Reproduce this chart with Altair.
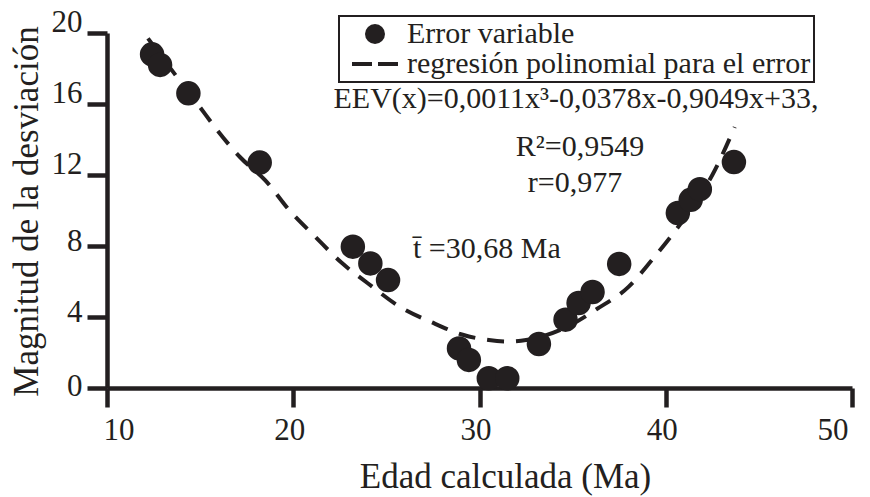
import altair as alt
import pandas as pd

# Data points
edad = [12.42, 12.85, 14.37, 18.2, 23.2, 24.14, 25.09, 28.9, 29.43, 30.5,
        31.49, 33.19, 34.62, 35.32, 36.07, 37.5, 40.65, 41.34, 41.83, 43.66]
desviacion = [18.8, 18.2, 16.6, 12.7, 7.96, 7.02, 6.08, 2.23, 1.58, 0.55,
              0.55, 2.48, 3.85, 4.79, 5.41, 6.99, 9.86, 10.6, 11.2, 12.73]

# Polynomial regression curve
curva_x = [12.2, 13.7, 14.9, 15.9, 17.15, 18.5, 19.8, 21.2, 22.6, 24.0, 25.75,
           27.4, 29.1, 30.5, 31.5, 32.5, 33.5, 34.8, 36.3, 38.0, 39.25, 40.4,
           41.5, 42.5, 43.7]
curva_y = [19.7, 17.6, 15.95, 14.55, 13.0, 11.7, 10.0, 8.5, 7.05, 5.9, 4.56,
           3.72, 3.0, 2.7, 2.62, 2.7, 2.95, 3.5, 4.45, 5.7, 7.2, 8.7,
           10.3, 12.0, 14.7]

series = ["Error variable", "regresión polinomial para el error"]
x_ticks = [10, 20, 30, 40, 50]
y_ticks = [0, 4, 8, 12, 16, 20]

INK = "#231f20"
FONT = "Liberation Serif"

pts = pd.DataFrame({"edad": edad, "desv": desviacion, "serie": series[0]})
cur = pd.DataFrame({"edad": curva_x, "desv": curva_y})

xscale = alt.Scale(domain=[10, 50], nice=False, zero=False)
yscale = alt.Scale(domain=[0, 20], nice=False)

xaxis = alt.Axis(values=x_ticks, title="Edad calculada (Ma)", grid=False,
                 labelOffset=-4, labelPadding=8, tickSize=19,
                 titleX=398, titleY=99, titleBaseline="alphabetic", titleAlign="center")
yaxis = alt.Axis(values=y_ticks, title="Magnitud de la desviación", grid=False,
                 tickSize=20, labelPadding=5,
                 labelOffset={"condition": [{"test": "datum.value >= 12", "value": -11},
                                            {"test": "datum.value >= 4", "value": -5}],
                              "value": -2},
                 titleX=-70, titleY=178, titleAngle=270, titleBaseline="alphabetic",
                 titleAlign="center")

line = alt.Chart(cur).mark_line(
    color=INK, strokeWidth=4, strokeDash=[17, 12], interpolate="monotone"
).encode(
    x=alt.X("edad:Q", scale=xscale, axis=xaxis),
    y=alt.Y("desv:Q", scale=yscale, axis=yaxis),
)

# legend symbols: filled circle, and a filled "two dashes" path
dash_symbol = "M-2.3,-0.2H-0.3V0.2H-2.3ZM0.3,-0.2H2.3V0.2H0.3Z"

points = alt.Chart(pts).mark_point(filled=True, opacity=1, color=INK, size=600).encode(
    x=alt.X("edad:Q", scale=xscale),
    y=alt.Y("desv:Q", scale=yscale),
    shape=alt.Shape(
        "serie:N",
        scale=alt.Scale(domain=series, range=["circle", dash_symbol]),
        legend=alt.Legend(
            title=None, orient="none", legendX=232, legendY=-17,
            strokeColor=INK, padding=3, rowPadding=0,
            labelFont=FONT, labelFontSize=30, labelColor=INK,
            labelOffset=17, labelLimit=600, symbolOffset=18,
            symbolSize=400, symbolStrokeWidth=0,
            symbolFillColor=INK, symbolOpacity=1,
        ),
    ),
)

def note(txt, x, y, align):
    return alt.Chart(pd.DataFrame({"t": [txt]})).mark_text(
        font=FONT, fontSize=30, color=INK, align=align, baseline="alphabetic"
    ).encode(text="t:N", x=alt.value(x), y=alt.value(y))

notes = (
    note("EEV(x)=0,0011x³-0,0378x-0,9049x+33,", 469, 75, "center")
    + note("R²=0,9549", 473, 123, "center")
    + note("r=0,977", 468, 159, "center")
    + note("t\u0304 =30,68 Ma", 306, 225, "left")
)

chart = alt.layer(line, points, notes).properties(
    width=745, height=355,
    autosize=alt.AutoSizeParams(type="none"),
    padding={"left": 107, "top": 33, "right": 18, "bottom": 109},
).configure_view(stroke=None).configure_axis(
    domainColor=INK, domainWidth=4.5, tickColor=INK, tickWidth=4.5,
    labelFont=FONT, labelFontSize=31, labelColor=INK,
    titleFont=FONT, titleFontSize=35, titleColor=INK, titleFontWeight="normal",
)

try:
    c2 = chart.configure_legend(strokeWidth=2)
    c2.to_dict()
    chart = c2
except Exception:
    pass

chart.save("out.html", embed_options={"renderer": "svg", "actions": False})
